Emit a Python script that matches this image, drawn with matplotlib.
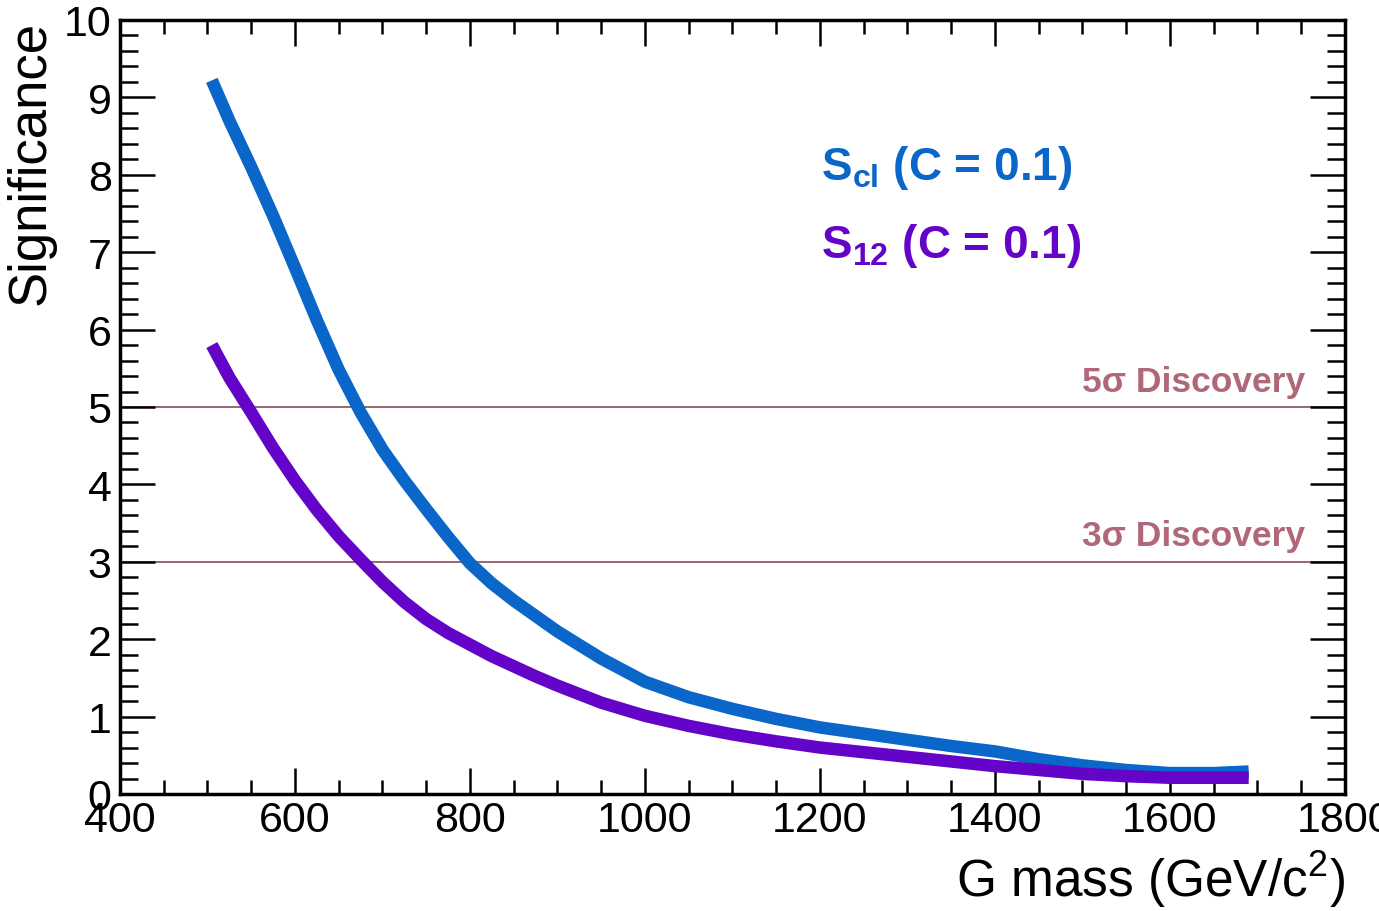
import numpy as np
import matplotlib
matplotlib.use("Agg")
import matplotlib.pyplot as plt
from matplotlib.ticker import MultipleLocator

plt.rcParams['font.family'] = ['Liberation Sans', 'DejaVu Sans']
plt.rcParams['mathtext.fontset'] = 'custom'
plt.rcParams['mathtext.rm'] = 'Liberation Sans'
plt.rcParams['mathtext.bf'] = 'Liberation Sans:bold'
plt.rcParams['mathtext.it'] = 'Liberation Sans:italic'

# G mass points (GeV/c^2)
mass = [505, 525, 550, 575, 600, 625, 650, 675, 700, 725, 750, 775, 800, 825, 850,
        875, 900, 950, 1000, 1050, 1100, 1150, 1200, 1250, 1300, 1350, 1400,
        1450, 1500, 1550, 1600, 1650, 1690]
# S_cl (C = 0.1)
sig_cl = [9.22, 8.7, 8.1, 7.47, 6.8, 6.12, 5.48, 4.93, 4.45, 4.05, 3.68, 3.32, 2.98, 2.72, 2.5,
          2.3, 2.1, 1.75, 1.45, 1.25, 1.1, 0.97, 0.86, 0.78, 0.70, 0.62, 0.55,
          0.45, 0.37, 0.31, 0.27, 0.27, 0.29]
# S_12 (C = 0.1)
sig_12 = [5.8, 5.38, 4.93, 4.47, 4.05, 3.67, 3.33, 3.03, 2.74, 2.48, 2.26, 2.08, 1.93, 1.78, 1.65,
          1.52, 1.4, 1.18, 1.01, 0.88, 0.77, 0.68, 0.60, 0.54, 0.48, 0.42, 0.36,
          0.31, 0.26, 0.23, 0.21, 0.21, 0.21]
discovery = [5, 3]

blue = '#0a66c8'
purple = '#6404c8'
rose = '#b06878'

fig = plt.figure(figsize=(13.79, 9.12), dpi=100)
ax = fig.add_axes([0.087, 0.1283, 0.8883, 0.8487])

for lvl in discovery:
    ax.axhline(lvl, color='#8c4a5a', lw=1.2, zorder=1)
    ax.text(1754, lvl + 0.12, f'{lvl}\u03c3 Discovery', color=rose, fontsize=25.5,
            fontweight='bold', ha='right', va='bottom')

ax.plot(mass, sig_cl, color=blue, lw=9, solid_capstyle='butt',
        solid_joinstyle='round', zorder=3)
ax.plot(mass, sig_12, color=purple, lw=9, solid_capstyle='butt',
        solid_joinstyle='round', zorder=3)

ax.text(0.572, 0.795, r'$\mathbf{S}_{\mathbf{cl}}$ (C = 0.1)', transform=ax.transAxes,
        color=blue, fontsize=33, fontweight='bold', va='baseline')
ax.text(0.572, 0.694, r'$\mathbf{S}_{\mathbf{12}}$ (C = 0.1)', transform=ax.transAxes,
        color=purple, fontsize=33, fontweight='bold', va='baseline')

ax.set_xlim(400, 1800)
ax.set_ylim(0, 10)
ax.xaxis.set_major_locator(MultipleLocator(200))
ax.xaxis.set_minor_locator(MultipleLocator(50))
ax.yaxis.set_major_locator(MultipleLocator(1))
ax.yaxis.set_minor_locator(MultipleLocator(0.2))
ax.tick_params(which='both', direction='in', top=True, right=True, labelsize=31, width=1.8)
ax.tick_params(axis='x', which='major', length=19)
ax.tick_params(axis='x', which='minor', length=10)
ax.tick_params(axis='y', which='major', length=25)
ax.tick_params(axis='y', which='minor', length=13)
ax.tick_params(axis='x', pad=4)
ax.tick_params(axis='y', pad=6)
for s in ax.spines.values():
    s.set_linewidth(2.5)

ax.set_ylabel('Significance', fontsize=38, loc='top', labelpad=6)
ax.set_xlabel(r'G mass (GeV/c$^{2}$)', fontsize=37, loc='right', labelpad=6)

fig.savefig('out.png', dpi=100)
